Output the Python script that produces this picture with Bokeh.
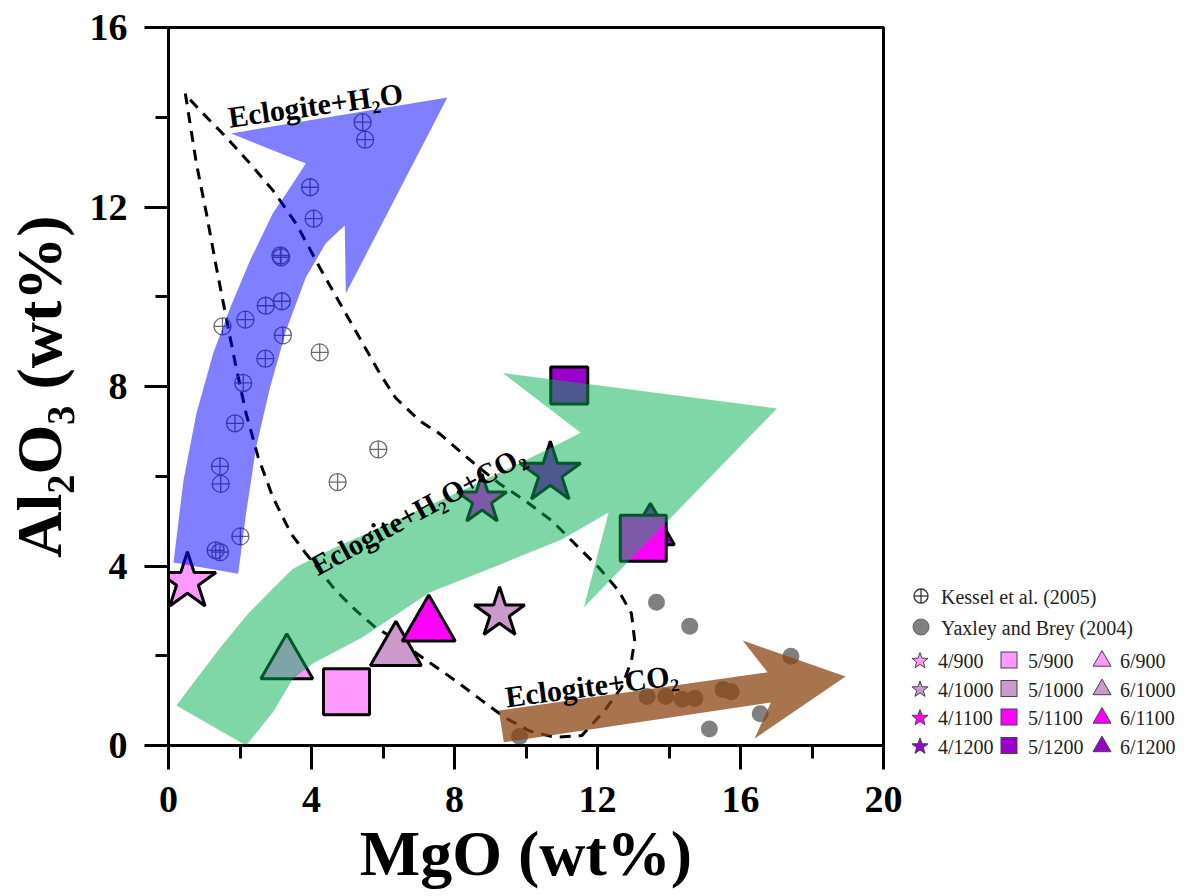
import math
from bokeh.plotting import figure
from bokeh.layouts import row
from bokeh.models import Range1d, SingleIntervalTicker, Div
from bokeh.core.properties import value
from bokeh.embed import file_html
from bokeh.resources import INLINE

# ---------------- data ----------------
kessel_mgo = [5.43, 5.50, 3.96, 4.06, 3.13, 3.15, 2.72, 3.17, 2.15, 1.51, 3.20,
              2.71, 4.23, 2.09, 1.86, 5.87, 4.73, 1.44, 1.46, 2.01, 1.32, 1.44]
kessel_al2o3 = [13.89, 13.50, 12.44, 11.74, 10.92, 10.88, 9.80, 9.90, 9.49, 9.34, 9.14,
                8.62, 8.76, 8.08, 7.18, 6.60, 5.87, 6.22, 5.83, 4.66, 4.35, 4.31]

yb_mgo = [13.65, 14.58, 17.41, 13.39, 13.91, 14.37, 14.72, 15.51, 15.74, 15.13, 16.55, 9.82]
yb_al2o3 = [3.19, 2.66, 1.99, 1.09, 1.09, 1.03, 1.05, 1.25, 1.20, 0.37, 0.71, 0.20]

star_labels = ["4/900", "4/1000", "4/1100", "4/1200"]
star_mgo = [0.53, 9.26, 8.77, 10.68]
star_al2o3 = [3.65, 2.95, 5.47, 6.07]

square_labels = ["5/900", "5/1100", "5/1200"]
square_mgo = [4.98, 13.28, 11.21]
square_al2o3 = [1.20, 4.62, 8.02]

tri_labels = ["6/900", "6/1000", "6/1100", "6/1200"]
tri_mgo = [3.31, 6.36, 7.28, 13.48]
tri_al2o3 = [1.82, 2.11, 2.67, 4.78]

legend_refs = ["Kessel et al. (2005)", "Yaxley and Brey (2004)"]
legend_rows = [["4/900", "5/900", "6/900"],
               ["4/1000", "5/1000", "6/1000"],
               ["4/1100", "5/1100", "6/1100"],
               ["4/1200", "5/1200", "6/1200"]]

temp_colors = {"900": "#FF99FF", "1000": "#CC99CC", "1100": "#FF00FF", "1200": "#9900CC"}

bnd_mgo = [0.47, 0.56, 0.78, 1.06, 1.34, 1.59, 1.87, 2.17, 2.51, 2.92, 3.43, 3.84, 4.23,
           4.68, 5.24, 5.79, 6.55, 7.30, 8.02, 8.77, 9.42, 10.08, 10.81, 11.56, 12.20,
           12.67, 12.95, 13.04, 12.95, 12.59, 12.03, 11.36, 10.72, 9.97, 9.25, 8.69,
           8.22, 7.58, 7.02, 6.35, 5.91, 5.07, 4.23, 3.57, 2.92, 2.28, 1.62, 0.97, 0.50]
bnd_al2o3 = [14.53, 14.08, 12.97, 11.86, 10.65, 9.63, 8.51, 7.40, 6.42, 5.53, 4.72, 4.28,
             3.90, 3.45, 3.01, 2.63, 2.27, 1.85, 1.45, 1.00, 0.62, 0.33, 0.18, 0.22, 0.78,
             1.29, 1.89, 2.34, 2.94, 3.45, 3.97, 4.50, 5.01, 5.46, 5.84, 6.19, 6.51, 6.95,
             7.24, 7.75, 8.29, 9.47, 10.65, 11.63, 12.37, 12.97, 13.55, 14.08, 14.48]

h2o_arrow_mgo = [0.14, 0.42, 0.78, 1.25, 1.73, 2.28, 2.92, 3.40, 3.84, 1.75, 7.80, 4.96,
                 4.93, 4.40, 3.84, 3.29, 2.84, 2.45, 2.17, 1.95]
h2o_arrow_al2o3 = [4.08, 5.91, 7.40, 8.74, 9.76, 10.81, 11.86, 12.43, 12.97, 13.64, 14.44,
                   10.07, 11.59, 11.19, 10.43, 9.25, 7.98, 6.64, 5.17, 3.83]

mix_arrow_mgo = [0.22, 0.70, 1.39, 2.23, 2.92, 3.48, 4.60, 6.55, 8.50, 10.72, 11.53, 9.35,
                 17.02, 11.62, 12.31, 11.00, 9.14, 7.30, 5.43, 4.04, 3.48, 2.92, 2.17]
mix_arrow_al2o3 = [0.89, 1.40, 2.12, 2.94, 3.50, 3.94, 4.39, 5.08, 5.79, 6.64, 6.97, 8.30,
                   7.51, 3.08, 5.19, 4.59, 3.99, 3.41, 2.41, 1.83, 1.49, 0.74, 0.00]

co2_arrow_mgo = [9.24, 16.76, 16.06, 18.94, 16.39, 16.85, 9.38]
co2_arrow_al2o3 = [0.78, 1.63, 2.34, 1.54, 0.15, 0.96, 0.07]

arrow_texts = ["Eclogite+H\u2082O", "Eclogite+H\u2082O+CO\u2082", "Eclogite+CO\u2082"]
arrow_text_mgo = [1.67, 4.04, 9.42]
arrow_text_al2o3 = [14.00, 3.97, 1.08]
arrow_text_angle_deg = [8.0, 28.5, 7.5]

# ---------------- main figure ----------------
SERIF = "Liberation Serif"

p = figure(width=908, height=894, x_range=Range1d(0, 20), y_range=Range1d(0, 16),
           output_backend="svg", toolbar_location=None,
           min_border_left=165, min_border_right=25, min_border_top=27,
           min_border_bottom=149)
p.grid.visible = False
p.outline_line_color = "black"
p.outline_line_width = 3
p.background_fill_color = "white"

for ax in (p.xaxis[0], p.yaxis[0]):
    ax.ticker = SingleIntervalTicker(interval=4, num_minor_ticks=2)
    ax.axis_line_width = 3
    ax.major_tick_line_width = 3
    ax.minor_tick_line_width = 3
    ax.major_tick_in = 0
    ax.major_tick_out = 24
    ax.minor_tick_in = 0
    ax.minor_tick_out = 13
    ax.major_label_text_font = SERIF
    ax.major_label_text_font_style = "bold"
    ax.major_label_text_font_size = "38px"
    ax.major_label_text_color = "black"
    ax.axis_label_text_font = SERIF
    ax.axis_label_text_font_style = "bold"
    ax.axis_label_text_font_size = "64px"
    ax.axis_label_text_color = "black"

p.xaxis.major_label_standoff = 17
p.yaxis.major_label_standoff = 17
p.xaxis.axis_label = "MgO (wt%)"
p.yaxis.axis_label = "Al\u2082O\u2083 (wt%)"
p.xaxis.axis_label_standoff = 3
p.yaxis.axis_label_standoff = 12

# boundary (dashed)
p.line(bnd_mgo, bnd_al2o3, line_color="black", line_width=3, line_dash="11 8")

# Kessel et al. (2005)
p.scatter(kessel_mgo, kessel_al2o3, marker="circle_cross", size=17,
          fill_color=None, line_color="#6a6a6a", line_width=1.3)
# Yaxley and Brey (2004)
p.scatter(yb_mgo, yb_al2o3, marker="circle", size=17,
          fill_color="#808080", line_color=None)

# experiments
tri_sizes = [52, 51, 53, 48]
sq_sizes = [46, 46, 37]
star_sizes = [60, 53, 52, 64]


def col(lbl):
    return temp_colors[lbl.split("/")[1]]


p.scatter(tri_mgo, tri_al2o3, marker="triangle", size=tri_sizes,
          fill_color=[col(l) for l in tri_labels], line_color="black", line_width=3)
p.scatter(square_mgo, square_al2o3, marker="square", size=sq_sizes,
          fill_color=[col(l) for l in square_labels], line_color="black", line_width=3)
p.scatter(star_mgo, star_al2o3, marker="star", size=star_sizes,
          fill_color=[col(l) for l in star_labels], line_color="black", line_width=3)

# arrows (semi-transparent, on top)
p.patch(h2o_arrow_mgo, h2o_arrow_al2o3, fill_color="#0000FF", fill_alpha=0.5, line_color=None)
p.patch(mix_arrow_mgo, mix_arrow_al2o3, fill_color="#00B050", fill_alpha=0.5, line_color=None)
p.patch(co2_arrow_mgo, co2_arrow_al2o3, fill_color="#8B4513", fill_alpha=0.75, line_color=None)

p.text(arrow_text_mgo, arrow_text_al2o3, text=arrow_texts,
       angle=[math.radians(a) for a in arrow_text_angle_deg],
       text_font=value(SERIF), text_font_style="bold", text_font_size=["30px", "29px", "30px"],
       text_color="black", text_align="left", text_baseline="alphabetic")

# ---------------- legend panel (inline SVG in a Div) ----------------
LX0 = 908  # page x where the legend panel starts


def star_points(cx, cy, r_out, r_in):
    pts = []
    for k in range(10):
        r = r_out if k % 2 == 0 else r_in
        a = math.radians(-90 + 36 * k)
        pts.append(f"{cx + r * math.cos(a):.2f},{cy + r * math.sin(a):.2f}")
    return " ".join(pts)


def tri_points(cx, cy, w):
    h = w * math.sqrt(3) / 2
    return (f"{cx - w/2:.2f},{cy + h/3:.2f} {cx + w/2:.2f},{cy + h/3:.2f} "
            f"{cx:.2f},{cy - 2*h/3:.2f}")


txt_style = ('style="font-family:\'Liberation Serif\',\'Times New Roman\',serif;'
             'font-size:20px;fill:#222222;dominant-baseline:central"')
parts = []
# Kessel symbol
kx, ky = 921 - LX0, 596
parts.append(f'<circle cx="{kx}" cy="{ky}" r="7" fill="none" stroke="#333" stroke-width="1.3"/>')
parts.append(f'<line x1="{kx-7}" y1="{ky}" x2="{kx+7}" y2="{ky}" stroke="#333" stroke-width="1.3"/>')
parts.append(f'<line x1="{kx}" y1="{ky-7}" x2="{kx}" y2="{ky+7}" stroke="#333" stroke-width="1.3"/>')
parts.append(f'<text x="{941-LX0}" y="{ky+1}" {txt_style}>{legend_refs[0]}</text>')
# Yaxley symbol
yx, yy = 921 - LX0, 627
parts.append(f'<circle cx="{yx}" cy="{yy}" r="8" fill="#808080" stroke="#666" stroke-width="1"/>')
parts.append(f'<text x="{941-LX0}" y="{yy+1}" {txt_style}>{legend_refs[1]}</text>')

row_y = [660, 688.5, 717, 745.5]
sym_x = [920 - LX0, 1009 - LX0, 1102 - LX0]
text_x = [938 - LX0, 1028 - LX0, 1120 - LX0]
for ri, labels in enumerate(legend_rows):
    y = row_y[ri]
    for ci, lbl in enumerate(labels):
        c = col(lbl)
        x = sym_x[ci]
        if ci == 0:
            parts.append(f'<polygon points="{star_points(x, y + 1, 8.5, 3.5)}" fill="{c}" '
                         f'stroke="#444" stroke-width="1"/>')
        elif ci == 1:
            parts.append(f'<rect x="{x-8}" y="{y-8}" width="16" height="16" fill="{c}" '
                         f'stroke="#444" stroke-width="1"/>')
        else:
            parts.append(f'<polygon points="{tri_points(x, y + 1, 18)}" fill="{c}" '
                         f'stroke="#444" stroke-width="1"/>')
        parts.append(f'<text x="{text_x[ci]}" y="{y+1}" {txt_style}>{lbl}</text>')

svg = (f'<svg xmlns="http://www.w3.org/2000/svg" width="{1184-LX0}" height="894" '
       f'style="display:block">' + "".join(parts) + '</svg>')
leg = Div(text=svg, width=1184 - LX0, height=894, margin=(0, 0, 0, 0))

layout = row(p, leg)
open("out.html", "w").write(file_html(layout, INLINE))
